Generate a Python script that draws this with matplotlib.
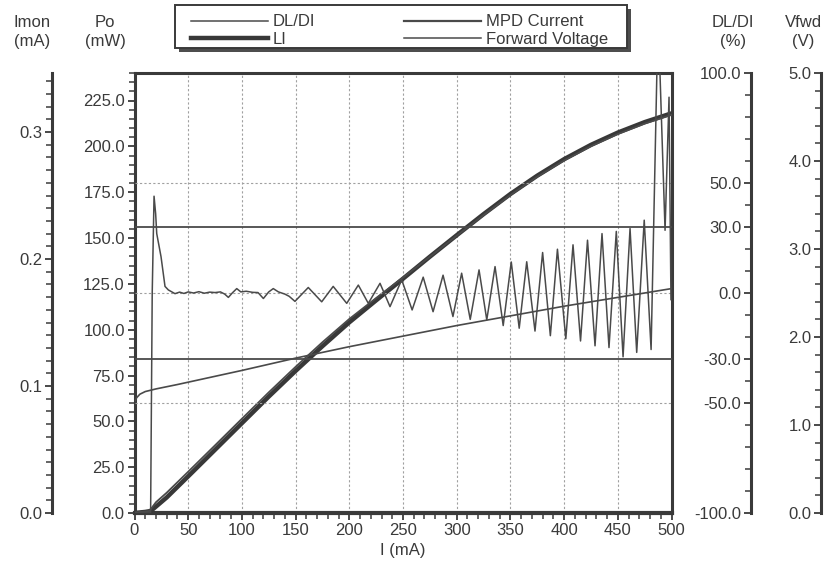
"""
LIV sweep of a laser diode: LI, MPD current, forward voltage and DL/DI
against drive current, in the four-axis layout of the test-station printout.
"""

import matplotlib

matplotlib.use("Agg")
import matplotlib.pyplot as plt  # noqa: E402
from matplotlib.lines import Line2D  # noqa: E402
from matplotlib.patches import Rectangle  # noqa: E402
from matplotlib.ticker import FixedLocator, FormatStrFormatter, MultipleLocator  # noqa: E402

# drive current (mA) for the smooth curves
curve_i = [0, 5, 10, 14, 16, 20, 30, 50, 75, 100, 125, 150, 175, 200, 225,
           250, 275, 300, 325, 350, 375, 400, 425, 450, 475, 500]
# optical power (mW)
li_po = [0, 0.3, 0.6, 1.0, 1.5, 3.5, 8.5, 20, 34.5, 49, 63.5, 77.5, 91, 104, 116,
         127.8, 139.8, 151.5, 163, 174, 184, 193, 200.8, 207.5, 213.2, 218]
# monitor photodiode current (mA)
mpd_ma = [0.0005, 0.0008, 0.0012, 0.0016, 0.0040, 0.0085, 0.0160, 0.0325, 0.0533, 0.0742,
          0.0950, 0.1151, 0.1345, 0.1528, 0.1693, 0.1854, 0.2018, 0.2184, 0.2346, 0.2504,
          0.2648, 0.2776, 0.2888, 0.2984, 0.3066, 0.3135]
# forward voltage (V)
fv_i = [0, 2, 5, 10, 20, 40, 70, 100, 150, 200, 250, 300, 350, 400, 450, 500]
fv_v = [1.26, 1.31, 1.35, 1.38, 1.41, 1.46, 1.54, 1.62, 1.76, 1.89, 2.01, 2.13, 2.24, 2.35, 2.45, 2.55]

# DL/DI (%) (peaks and troughs of the ripple)
dldi_i = [0, 15, 16.5, 18.2, 19.7, 20.7, 24.7, 28.4, 31.5, 37.7,
          42, 46, 50, 55, 60, 65, 70, 75, 80, 84, 87.4, 91, 95.2, 99, 104, 110, 115, 120,
          125, 129.2, 134, 140, 144,
          149.4, 161.8, 174.3, 185, 197.6, 208.4, 217.7, 228.6, 237.9, 248.8,
          258.5, 268.8, 278, 287.3, 296.5, 304.6, 312.6, 320.8, 328, 335.7,
          343.3, 350.8, 358.2, 365.2, 372.9, 380, 387.2, 393.8, 401.6, 408.3,
          415.3, 421.8, 428.8, 435.3, 441.8, 448.6, 454.9, 461.4, 467.6, 474.6,
          481, 486.8, 488.6, 494, 497.7, 499.5]
dldi_v = [-100, -100, 0, 44, 36, 27, 16.5, 3, 1.4, -0.3,
          0.4, -0.2, 0.5, 0, 0.6, -0.1, 0.4, 0.2, 0.5, -0.5, -2, 0, 2, 0.5, 0.8, 0.3, 0.2, -2.5,
          0.5, 2, 0.5, -0.5, -1.5,
          -3.8, 2.5, -4, 3, -4.7, 3.6, -4.7, 4.4, -6.2, 6,
          -7.7, 7.2, -8.5, 8.1, -10.7, 9, -12, 10.5, -12.2, 12,
          -14.8, 14.1, -16, 14.2, -17.3, 18.4, -19.4, 19.9, -20.8, 21.9,
          -21.8, 24, -24, 27, -24.8, 28, -29, 29.3, -27, 33.1,
          -25.7, 110, 110, 28.5, 89, -3]

dldi_ticks = [-100, -50, -30, 0, 30, 50, 100]
dldi_grid = [-50, 0, 50]
dldi_limits = [-30, 30]
imon_ticks = [0.0, 0.1, 0.2, 0.3]

INK = "#3a3a3a"
LINE = "#4a4a4a"
GRID = "#a0a0a0"
W, H = 826, 562

plt.rcParams["font.family"] = ["Liberation Sans", "DejaVu Sans"]
plt.rcParams["font.size"] = 12
plt.rcParams["text.color"] = INK


def _style_axis(a, side, pos=None):
    for name, sp in a.spines.items():
        sp.set_visible(name == side)
        sp.set_linewidth(2.2)
        sp.set_color(INK)
    if pos is not None:
        a.spines[side].set_position(("axes", pos))
    a.yaxis.set_ticks_position("left")
    a.yaxis.set_label_position("left")
    a.tick_params(axis="y", which="major", direction="out", length=5, width=1.3,
                  colors=INK, labelsize=12, pad=2)
    a.tick_params(axis="y", which="minor", direction="out", length=4, width=1.1, colors=INK)


def _px_rect(fig, x0, y0, x1, y1, **kw):
    # rectangle given in pixel coords (origin top-left) -> figure fraction
    return Rectangle((x0 / W, 1 - y1 / H), (x1 - x0) / W, (y1 - y0) / H,
                     transform=fig.transFigure, **kw)


def render(out_png="out.png"):
    fig = plt.figure(figsize=(W / 100, H / 100), dpi=100)
    L, R, B, T = 134.5 / W, 671.5 / W, 1 - 513 / H, 1 - 73 / H
    ax = fig.add_axes([L, B, R - L, T - B])

    # Po (main axes)
    ax.set_xlim(0, 500)
    ax.set_ylim(0, 240)
    for sp in ax.spines.values():
        sp.set_linewidth(2.2)
        sp.set_color(INK)
    ax.spines["bottom"].set_linewidth(3)
    ax.xaxis.set_major_locator(MultipleLocator(50))
    ax.xaxis.set_minor_locator(MultipleLocator(10))
    ax.yaxis.set_major_locator(MultipleLocator(25))
    ax.yaxis.set_minor_locator(MultipleLocator(5))
    ax.yaxis.set_major_formatter(FormatStrFormatter("%.1f"))
    ax.tick_params(which="major", direction="out", length=5, width=1.3, colors=INK,
                   labelsize=12, pad=2)
    ax.tick_params(which="minor", direction="out", length=4, width=1.1, colors=INK)
    ax.set_xlabel("I (mA)", fontsize=12, labelpad=4, color=INK)
    for xv in range(50, 500, 50):
        ax.axvline(xv, color=GRID, lw=0.8, ls=(0, (2, 2)), zorder=0)
    ax.plot(curve_i, li_po, color="#383838", lw=3.2, solid_capstyle="butt", zorder=3)

    # Imon (far left)
    ax_imon = ax.twinx()
    _style_axis(ax_imon, "left", -0.1536)
    ax_imon.set_ylim(0, 0.3465)
    ax_imon.yaxis.set_major_locator(FixedLocator(imon_ticks))
    ax_imon.yaxis.set_minor_locator(MultipleLocator(0.01))
    ax_imon.yaxis.set_major_formatter(FormatStrFormatter("%.1f"))
    ax_imon.plot(curve_i, mpd_ma, color=LINE, lw=1.3)

    # DL/DI (right, first)
    ax_dl = ax.twinx()
    _style_axis(ax_dl, "left", 1.148)
    ax_dl.set_ylim(-100, 100)
    ax_dl.yaxis.set_major_locator(FixedLocator(dldi_ticks))
    ax_dl.yaxis.set_minor_locator(MultipleLocator(10))
    ax_dl.yaxis.set_major_formatter(FormatStrFormatter("%.1f"))
    for g in dldi_grid:
        ax_dl.axhline(g, color=GRID, lw=0.8, ls=(0, (2, 2)), zorder=0)
    for g in dldi_limits:
        ax_dl.axhline(g, color=LINE, lw=1.3)
    ax_dl.plot(dldi_i, dldi_v, color=LINE, lw=1.1, solid_joinstyle="round")

    # Vfwd (right, second)
    ax_v = ax.twinx()
    _style_axis(ax_v, "left", 1.2784)
    ax_v.set_ylim(0, 5)
    ax_v.yaxis.set_major_locator(MultipleLocator(1))
    ax_v.yaxis.set_minor_locator(MultipleLocator(0.2))
    ax_v.yaxis.set_major_formatter(FormatStrFormatter("%.1f"))
    ax_v.plot(fv_i, fv_v, color=LINE, lw=1.2)

    # axis titles above each scale
    ty = 1 - 32 / H
    for x, txt in [(32, "Imon\n(mA)"), (105, "Po\n(mW)"), (733, "DL/DI\n(%)"), (803, "Vfwd\n(V)")]:
        fig.text(x / W, ty, txt, ha="center", va="center", fontsize=12,
                 linespacing=1.4, color=INK)

    # legend box with a hard drop shadow, like the printout
    fig.add_artist(_px_rect(fig, 179, 9, 631, 52, facecolor="0.3", edgecolor="none", zorder=-2))
    fig.add_artist(_px_rect(fig, 175, 5, 627, 48, facecolor="white", edgecolor=INK,
                            linewidth=1.4, zorder=-1))
    handles = [
        Line2D([], [], color=LINE, lw=1.1),
        Line2D([], [], color="#383838", lw=3.2),
        Line2D([], [], color=LINE, lw=1.6),
        Line2D([], [], color=LINE, lw=1.1),
    ]
    labels = ["DL/DI", "LI", "MPD Current", "Forward Voltage"]
    leg = fig.legend(handles, labels, ncol=2, loc="upper left",
                     bbox_to_anchor=(183 / W, 1 - 6 / H), frameon=False, fontsize=12,
                     handlelength=4.6, handletextpad=0.3, columnspacing=5.3,
                     labelspacing=0.15, borderpad=0.0)
    leg.set_zorder(10)
    for t in leg.get_texts():
        t.set_color(INK)

    fig.savefig(out_png, dpi=100)


if __name__ == "__main__":
    render()
